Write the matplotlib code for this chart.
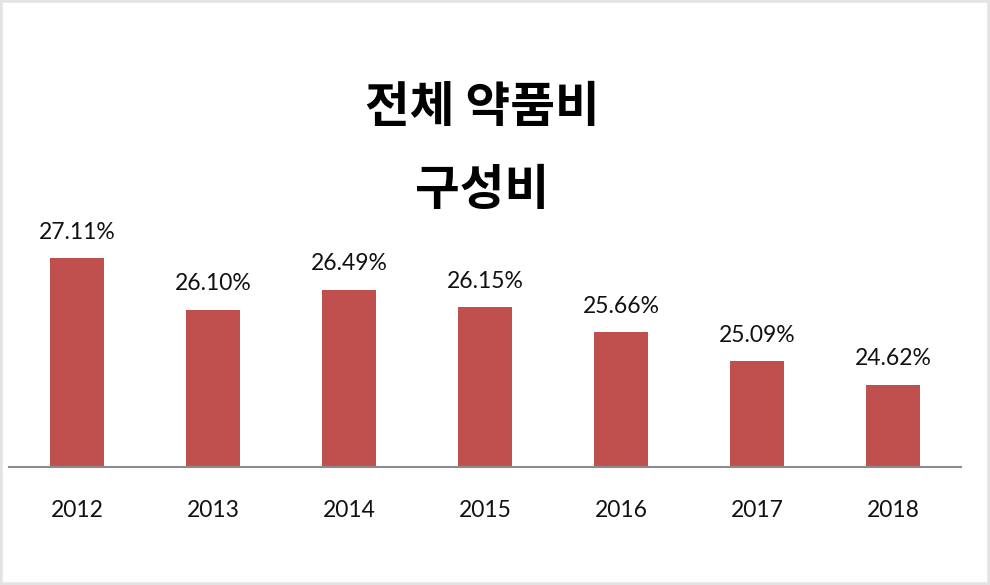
import matplotlib.pyplot as plt
from matplotlib.patches import Rectangle

years = ['2012', '2013', '2014', '2015', '2016', '2017', '2018']
shares = [27.11, 26.10, 26.49, 26.15, 25.66, 25.09, 24.62]
title_lines = ['전체 약품비', '구성비']

plt.rcParams['font.family'] = ['Lato', 'DejaVu Sans']

fig = plt.figure(figsize=(9.9, 5.85), dpi=100)
# light grey frame round the whole picture
fig.patches.append(Rectangle((0, 0), 1, 1, transform=fig.transFigure,
                             fill=False, edgecolor='#e3e3e3', linewidth=4))

ax = fig.add_axes([9 / 990, 118 / 585, 952 / 990, 254 / 585])
x = list(range(len(years)))
ax.bar(x, shares, width=0.4, color='#c0504d')
ax.set_ylim(23, 28)
ax.set_xlim(-0.5, len(years) - 0.5)

for xi, v in zip(x, shares):
    ax.annotate(f'{v:.2f}%', (xi, v), xytext=(0, 11), textcoords='offset points',
                ha='center', va='bottom', fontsize=16.5, color='#111111')

ax.set_xticks(x)
ax.set_xticklabels(years, fontsize=16.5, color='#111111')
ax.tick_params(axis='x', length=0, pad=24)
ax.set_yticks([])
for s in ['top', 'left', 'right']:
    ax.spines[s].set_visible(False)
ax.spines['bottom'].set_color('#8c8c8c')
ax.spines['bottom'].set_linewidth(1.5)

fig.text(482 / 990, 1 - 108 / 585, title_lines[0], ha='center', va='center',
         fontsize=35, fontweight='bold', family=['Noto Sans CJK KR', 'DejaVu Sans'])
fig.text(482 / 990, 1 - 191 / 585, title_lines[1], ha='center', va='center',
         fontsize=35, fontweight='bold', family=['Noto Sans CJK KR', 'DejaVu Sans'])

fig.savefig('out.png', dpi=100)
